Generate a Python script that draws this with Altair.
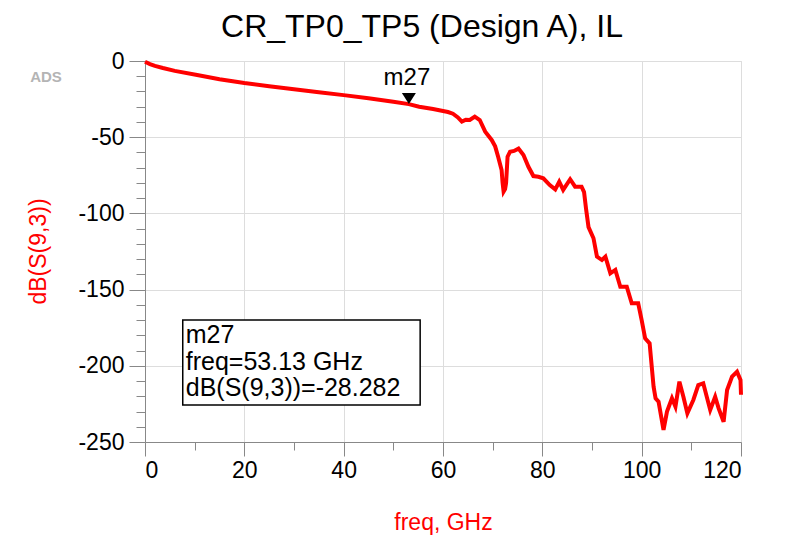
import altair as alt
import pandas as pd

# --- data ---
freq = [0, 1, 2, 3.6, 6, 10.5, 15, 20, 25, 30, 35, 40, 45, 50, 53.13, 55.2, 58, 60, 61, 62, 63,
        63.8, 64.6, 65.4, 66.4, 67.4, 68.5, 69.8, 70.5, 71.1, 71.8, 72.0, 72.2, 72.5, 72.7, 73.0,
        73.5, 74.3, 75.2, 76.2, 77.2, 78.2, 79.2, 80.2, 81.5, 82.6, 83.4, 84.2, 85.6, 86.6, 87.9,
        88.4, 88.8, 89.3, 90.3, 91, 92, 92.7, 93.7, 94.7, 95.7, 97, 98, 99.3, 100, 100.7, 101.6,
        102.4, 102.8, 103.4, 104.4, 105.1, 106.1, 106.8, 107.6, 108.4, 109.2, 110.4, 111.4, 112.4,
        113.8, 114.8, 115.5, 116.5, 117.2, 118.2, 119.2, 119.9, 120]
db = [-0.5, -2.0, -3.2, -4.6, -6.5, -9.2, -12, -14.5, -16.6, -18.6, -20.5, -22.4, -24.5, -26.7,
      -28.3, -30.0, -31.5, -32.8, -33.5, -34.6, -37, -39.8, -38.5, -38.7, -36.5, -38.7, -46.4,
      -51.8, -56, -62.8, -71.5, -80, -85.7, -84, -80, -62.8, -59.5, -59, -57.5, -61.7, -69.4,
      -75.5, -76, -77, -81.4, -84.2, -79.2, -84.6, -77.6, -82.5, -82.5, -86, -97, -109, -116.3,
      -128.4, -130.6, -128.4, -139.3, -137.1, -148.1, -148.1, -159, -159, -170, -182, -185.3,
      -213.7, -221.3, -223.5, -242, -230, -221.3, -226.8, -210.4, -220.3, -231.2, -222.4, -212.6,
      -211.5, -229, -220.3, -227.9, -236.7, -215.9, -207.1, -203.9, -209.3, -219]

marker_name = ["m27"]
marker_freq = [53.13]
marker_db = [-28.282]

box_x1 = [7.6]
box_x2 = [55.4]
box_y1 = [-169.9]
box_y2 = [-225.7]
box_text_x = [8.2, 8.2, 8.2]
box_text_y = [-185.0, -202.8, -219.6]
box_lines = ["m27", "freq=53.13 GHz", "dB(S(9,3))=-28.282"]

title_text = "CR_TP0_TP5 (Design A), IL"

x_ticks = list(range(0, 121, 10))
y_ticks = list(range(-250, 1, 10))

FONT = "Liberation Sans"

curve = pd.DataFrame({"freq": freq, "db": db})
mk = pd.DataFrame({"name": marker_name, "freq": marker_freq, "db": marker_db})
box = pd.DataFrame({"x1": box_x1, "x2": box_x2, "y1": box_y1, "y2": box_y2})
btxt = pd.DataFrame({"x": box_text_x, "y": box_text_y, "t": box_lines})

xscale = alt.Scale(domain=[0, 120], nice=False, zero=False)
yscale = alt.Scale(domain=[-250, 0], nice=False, zero=False)

xaxis = alt.Axis(
    values=x_ticks,
    tickCount=100,
    labelExpr="datum.value % 20 === 0 ? '' + datum.value : ''",
    labelOverlap=False,
    tickSize={"condition": {"test": "datum.value % 20 === 0", "value": 14}, "value": 8},
    gridOpacity={"condition": {"test": "datum.value % 20 === 0", "value": 1}, "value": 0},
    title="freq, GHz",
    titleColor="#ff0000",
    titleFontSize=23,
    titleFont=FONT,
    titleFontWeight="normal",
    titleBaseline="alphabetic",
    titleY=87,
    labelFontSize=23,
    labelFont=FONT,
    labelColor="#000000",
    labelPadding=3,
)
yaxis = alt.Axis(
    values=y_ticks,
    tickCount=100,
    labelExpr="datum.value % 50 === 0 ? '' + datum.value : ''",
    labelOverlap=False,
    tickSize={"condition": {"test": "datum.value % 50 === 0", "value": 16}, "value": 9},
    gridOpacity={"condition": {"test": "datum.value % 50 === 0", "value": 1}, "value": 0},
    title="dB(S(9,3))",
    titleColor="#ff0000",
    titleFontSize=23,
    titleFont=FONT,
    titleFontWeight="normal",
    titleAngle=-90,
    titleBaseline="middle",
    titleX=-107,
    titleY=190,
    labelFontSize=23,
    labelFont=FONT,
    labelColor="#000000",
    labelPadding=5,
)

line = alt.Chart(curve).mark_line(color="#ff0000", strokeWidth=4).encode(
    x=alt.X("freq:Q", scale=xscale, axis=xaxis),
    y=alt.Y("db:Q", scale=yscale, axis=yaxis),
)

tri = alt.Chart(mk).mark_point(
    shape="M -1 -1.6 L 1 -1.6 L 0 0 Z", filled=True, color="#000000", size=196, opacity=1
).encode(x="freq:Q", y="db:Q")

tri_label = alt.Chart(mk).mark_text(
    font=FONT, fontSize=24, color="#000000", baseline="alphabetic", dy=-19, dx=-2
).encode(x="freq:Q", y="db:Q", text="name:N")

rect = alt.Chart(box).mark_rect(fill="#ffffff", stroke="#000000", strokeWidth=1.5).encode(
    x="x1:Q", x2="x2:Q", y="y1:Q", y2="y2:Q"
)

rtext = alt.Chart(btxt).mark_text(
    font=FONT, fontSize=25, color="#000000", align="left", baseline="alphabetic"
).encode(x="x:Q", y="y:Q", text="t:N")

ads = alt.Chart(pd.DataFrame({"t": ["ADS"]})).mark_text(
    font=FONT, fontSize=15, fontWeight="bold", color="#b4b4b4", align="center", baseline="middle"
).encode(x=alt.value(-99), y=alt.value(16), text="t:N")

title = alt.Chart(pd.DataFrame({"t": [title_text]})).mark_text(
    font=FONT, fontSize=32, color="#000000", align="center", baseline="alphabetic"
).encode(x=alt.value(277), y=alt.value(-24), text="t:N")

chart = alt.layer(line, rect, rtext, tri, tri_label, ads, title).properties(
    width=596,
    height=381,
    padding={"left": 137, "top": 53, "right": 36, "bottom": 100},
    autosize=alt.AutoSizeParams(type="none"),
).configure_view(
    stroke="#333333", strokeWidth=2
).configure_axis(
    domainColor="#333333", domainWidth=2, tickColor="#333333", tickWidth=1.5,
    gridColor="#c8c8c8", gridWidth=1.5,
).configure(background="#ffffff")

chart.save("out.html", embed_options={"renderer": "svg", "actions": False})
